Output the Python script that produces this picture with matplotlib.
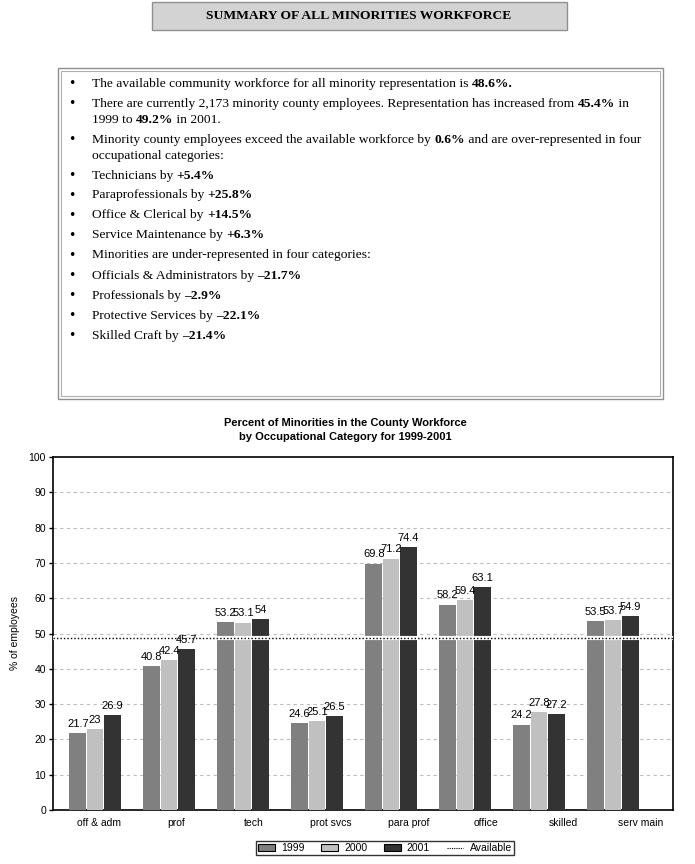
import numpy as np
import matplotlib
matplotlib.use("Agg")
import matplotlib.pyplot as plt
from matplotlib.patches import Rectangle, Patch
from matplotlib.lines import Line2D

#%% data

categories = ["off & adm", "prof", "tech", "prot svcs", "para prof", "office", "skilled", "serv main"]
years = ["1999", "2000", "2001"]
pct_1999 = [21.7, 40.8, 53.2, 24.6, 69.8, 58.2, 24.2, 53.5]
pct_2000 = [23, 42.4, 53.1, 25.1, 71.2, 59.4, 27.8, 53.7]
pct_2001 = [26.9, 45.7, 54, 26.5, 74.4, 63.1, 27.2, 54.9]
available = 48.6

bar_colors = ["#808080", "#c0c0c0", "#333333"]

summary_title = "SUMMARY OF ALL MINORITIES WORKFORCE"

# each bullet: list of lines, each line a list of (text, bold) runs
bullets = [
    [[("The available community workforce for all minority representation is ", False), ("48.6%.", True)]],
    [[("There are currently 2,173 minority county employees. Representation has increased from ", False), ("45.4%", True), (" in", False)],
     [("1999 to ", False), ("49.2%", True), (" in 2001.", False)]],
    [[("Minority county employees exceed the available workforce by ", False), ("0.6%", True), (" and are over-represented in four", False)],
     [("occupational categories:", False)]],
    [[("Technicians by ", False), ("+5.4%", True)]],
    [[("Paraprofessionals by ", False), ("+25.8%", True)]],
    [[("Office & Clerical by ", False), ("+14.5%", True)]],
    [[("Service Maintenance by ", False), ("+6.3%", True)]],
    [[("Minorities are under-represented in four categories:", False)]],
    [[("Officials & Administrators by ", False), ("\u201321.7%", True)]],
    [[("Professionals by ", False), ("\u20132.9%", True)]],
    [[("Protective Services by ", False), ("\u201322.1%", True)]],
    [[("Skilled Craft by ", False), ("\u201321.4%", True)]],
]
# pixel rows of the text lines (from top of image)
line_rows = [[84], [104, 120], [140, 156], [176], [195], [215], [235], [255], [276], [296], [316], [336]]

#%% figure

W, H = 695, 864
fig = plt.figure(figsize=(W / 100, H / 100), dpi=100)
renderer = fig.canvas.get_renderer()

def fx(px):
    return px / W

def fy(py):
    return 1 - py / H

# title box
fig.patches.append(Rectangle((fx(152), fy(30)), fx(567) - fx(152), fy(2) - fy(30),
                             transform=fig.transFigure, facecolor="#d3d3d3", edgecolor="#909090", lw=1))
fig.text(fx(359), fy(16), summary_title, ha="center", va="center", fontsize=9.7,
         fontweight="bold", family="Liberation Serif")

# text box with double border
fig.patches.append(Rectangle((fx(58), fy(399)), fx(663) - fx(58), fy(68) - fy(399),
                             transform=fig.transFigure, facecolor="none", edgecolor="#909090", lw=1))
fig.patches.append(Rectangle((fx(61), fy(396)), fx(660) - fx(61), fy(71) - fy(396),
                             transform=fig.transFigure, facecolor="none", edgecolor="#b0b0b0", lw=0.8))

def draw_runs(x_px, y_px, runs, size=9.7):
    x = x_px
    for txt, bold in runs:
        t = fig.text(fx(x), fy(y_px), txt, ha="left", va="center", fontsize=size,
                     fontweight="bold" if bold else "normal", family="Liberation Serif")
        bb = t.get_window_extent(renderer=renderer)
        x += bb.width
    return x

for lines, rows in zip(bullets, line_rows):
    fig.text(fx(72), fy(rows[0]), "\u2022", ha="center", va="center", fontsize=9, family="DejaVu Sans")
    for runs, row in zip(lines, rows):
        draw_runs(92, row, runs)

#%% bar chart

ax = fig.add_axes([fx(53), fy(810), fx(673) - fx(53), fy(457) - fy(810)])

x = np.arange(len(categories))
width = 0.225
step = 0.235
for j, (vals, col, yr) in enumerate(zip([pct_1999, pct_2000, pct_2001], bar_colors, years)):
    pos = x + (j - 1) * step
    bars = ax.bar(pos, vals, width, color=col, edgecolor="none", zorder=3, label=yr)
    for b, v in zip(bars, vals):
        ax.annotate(f"{v:g}", (b.get_x() + b.get_width() / 2, v), xytext=(0, 3),
                    textcoords="offset points", ha="center", va="bottom", fontsize=8,
                    family="Liberation Sans", zorder=5)

ax.axhline(available, color="white", lw=3, zorder=4)
ax.axhline(available, color="black", lw=1, ls=(0, (1, 1.5)), zorder=4.5)

ax.set_ylim(0, 100)
ax.set_xlim(-0.57, 7.81)
ax.set_yticks(np.arange(0, 101, 10))
ax.tick_params(axis="y", labelsize=7.5, length=3, width=1, pad=2)
for lbl in ax.get_yticklabels():
    lbl.set_family("Liberation Sans")

# category labels sit on a slightly wider spacing than the bar groups
ax.set_xticks(0.055 + x * 1.045)
ax.set_xticklabels(categories, fontsize=7.5, family="Liberation Sans")
ax.tick_params(axis="x", length=0, pad=6)

for yv in range(10, 100, 10):
    ax.axhline(yv, color="#bdbdbd", lw=0.8, ls=(0, (3, 3)), zorder=1)

for s in ax.spines.values():
    s.set_linewidth(1.2)
    s.set_zorder(2)

ax.set_ylabel("% of employees", fontsize=7.5, family="Liberation Sans")
ax.yaxis.set_label_coords(-0.053, 0.5)

fig.text(fx(345), fy(423), "Percent of Minorities in the County Workforce", ha="center", va="center",
         fontsize=8, fontweight="bold", family="Liberation Sans")
fig.text(fx(345), fy(437), "by Occupational Category for 1999-2001", ha="center", va="center",
         fontsize=8, fontweight="bold", family="Liberation Sans")

handles = [Patch(facecolor=c, edgecolor="black", lw=0.8) for c in bar_colors]
handles.append(Line2D([0], [0], color="black", lw=0.8, ls=(0, (1, 1))))
leg = fig.legend(handles, years + ["Available"], loc="center", bbox_to_anchor=(fx(385), fy(848)),
                 ncol=4, fontsize=7.5, frameon=True, fancybox=False, borderpad=0.2,
                 handlelength=1.6, handleheight=0.6, handletextpad=0.6, columnspacing=1.6,
                 prop={"family": "Liberation Sans", "size": 7.5})
leg.get_frame().set_edgecolor("black")
leg.get_frame().set_linewidth(1)

fig.savefig("out.png", dpi=100)
